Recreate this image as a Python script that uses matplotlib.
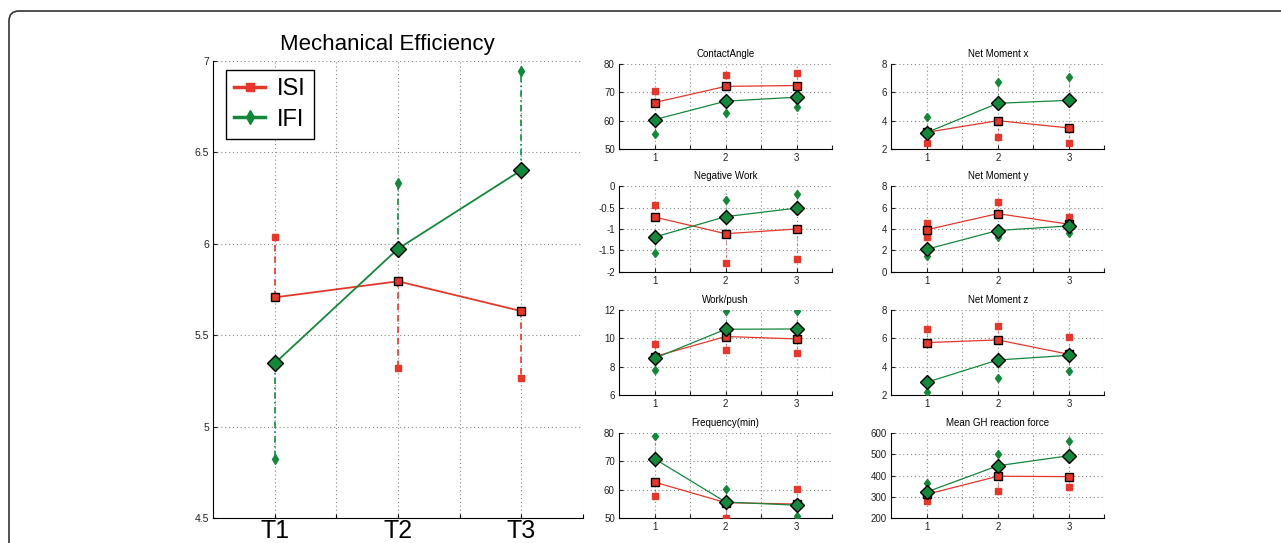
import numpy as np
import matplotlib.pyplot as plt
from matplotlib.patches import FancyBboxPatch
from matplotlib.lines import Line2D

plt.rcParams['font.family'] = ['Liberation Sans', 'DejaVu Sans']

red = '#e5372a'
green = '#14883a'

times = [1, 2, 3]
time_labels = ['T1', 'T2', 'T3']

# Mechanical efficiency (big panel)
me_isi = [5.707, 5.795, 5.632]
me_isi_end = [[6.038], [5.321], [5.268]]
me_ifi = [5.346, 5.973, 6.403]
me_ifi_end = [[4.822], [6.332], [6.945]]

# small panels
ca_isi = [66.3, 72.0, 72.3]
ca_isi_end = [[70.2], [76.1], [76.7]]
ca_ifi = [60.3, 66.8, 68.2]
ca_ifi_end = [[55.1], [62.8], [64.6]]

nw_isi = [-0.72, -1.11, -1.0]
nw_isi_end = [[-0.44], [-1.79], [-1.70]]
nw_ifi = [-1.19, -0.71, -0.51]
nw_ifi_end = [[-1.57], [-0.31], [-0.19]]

wp_isi = [8.72, 10.13, 9.96]
wp_isi_end = [[9.59], [9.21], [8.98]]
wp_ifi = [8.60, 10.64, 10.66]
wp_ifi_end = [[7.78], [11.95], [11.95]]

fr_isi = [62.7, 55.5, 55.0]
fr_isi_end = [[57.7], [50.2], [60.2]]
fr_ifi = [70.9, 55.7, 54.6]
fr_ifi_end = [[78.8], [60.3], [50.9]]

nmx_isi = [3.17, 3.99, 3.48]
nmx_isi_end = [[2.40], [2.87], [2.40]]
nmx_ifi = [3.15, 5.21, 5.42]
nmx_ifi_end = [[4.27], [6.73], [7.09]]

nmy_isi = [3.93, 5.44, 4.45]
nmy_isi_end = [[4.6, 3.25], [6.55], [5.10]]
nmy_ifi = [2.10, 3.86, 4.29]
nmy_ifi_end = [[1.45], [3.24], [3.67]]

nmz_isi = [5.70, 5.89, 4.88]
nmz_isi_end = [[6.64], [6.85], [6.08]]
nmz_ifi = [2.91, 4.48, 4.81]
nmz_ifi_end = [[2.23], [3.22], [3.69]]

gh_isi = [312, 397, 395]
gh_isi_end = [[279], [326], [345]]
gh_ifi = [323, 446, 493]
gh_ifi_end = [[367], [499], [563]]

panels = [
    ('ContactAngle', (50, 80, 10), ca_isi, ca_isi_end, ca_ifi, ca_ifi_end),
    ('Negative Work', (-2, 0, 0.5), nw_isi, nw_isi_end, nw_ifi, nw_ifi_end),
    ('Work/push', (6, 12, 2), wp_isi, wp_isi_end, wp_ifi, wp_ifi_end),
    ('Frequency(min)', (50, 80, 10), fr_isi, fr_isi_end, fr_ifi, fr_ifi_end),
    ('Net Moment x', (2, 8, 2), nmx_isi, nmx_isi_end, nmx_ifi, nmx_ifi_end),
    ('Net Moment y', (0, 8, 2), nmy_isi, nmy_isi_end, nmy_ifi, nmy_ifi_end),
    ('Net Moment z', (2, 8, 2), nmz_isi, nmz_isi_end, nmz_ifi, nmz_ifi_end),
    ('Mean GH reaction force', (200, 600, 100), gh_isi, gh_isi_end, gh_ifi, gh_ifi_end),
]


def style_axes(ax, ymin, ymax, ystep, fs):
    ax.set_xlim(0.5, 3.5)
    ax.set_ylim(ymin, ymax)
    ax.set_xticks(np.arange(1, 3.51, 0.5))
    ax.set_yticks(np.arange(ymin, ymax + ystep / 2, ystep))
    ax.grid(True, linestyle=(0, (1, 2.5)), color='#888888', linewidth=0.8)
    ax.spines['top'].set_visible(False)
    ax.spines['right'].set_visible(False)
    ax.tick_params(direction='in', length=3, labelsize=fs, pad=3, colors='#222222')
    ax.set_axisbelow(True)


def draw_series(ax, means, ends, color, marker, ms, ms_end, lw, ls, alpha=1.0):
    end_marker = 'd' if marker == 'D' else marker
    for x, m, e in zip(times, means, ends):
        for v in e:
            ax.plot([x, x], [m, v], linestyle=ls, color=color, linewidth=lw * 0.9,
                    alpha=alpha, zorder=2)
            ax.plot(x, v, linestyle='none', marker=end_marker, markersize=ms_end,
                    color=color, markeredgecolor=color, zorder=3)
    ax.plot(times, means, color=color, linewidth=lw, marker=marker, markersize=ms,
            markerfacecolor=color, markeredgecolor='black', markeredgewidth=1.0, zorder=4)


fig = plt.figure(figsize=(12.81, 5.43), dpi=100)

# rounded frame, running off the right and bottom edges
frame = FancyBboxPatch((0.09, -0.5), 13.5, 5.82, boxstyle='round,pad=0,rounding_size=0.1',
                       transform=fig.dpi_scale_trans, facecolor='none', edgecolor='#333333',
                       linewidth=1.2)
fig.patches.append(frame)

ax = fig.add_axes([0.1663, 0.0460, 0.2888, 0.8416])
style_axes(ax, 4.5, 7, 0.5, 7.5)
ax.set_yticklabels(['4.5', '5', '5.5', '6', '6.5', '7'])
ax.set_xticklabels(['T1', '', 'T2', '', 'T3', ''])
ax.tick_params(axis='x', labelsize=18, pad=1, colors='black')
draw_series(ax, me_isi, me_isi_end, red, 's', 6, 4.5, 1.3, (0, (4, 3)))
draw_series(ax, me_ifi, me_ifi_end, green, 'D', 8, 5.5, 1.3, (0, (4, 2, 1, 2)))
ax.set_title('Mechanical Efficiency', fontsize=16, pad=8, x=0.47)
handles = [Line2D([], [], color=red, marker='s', markersize=6, linewidth=2.5),
           Line2D([], [], color=green, marker='d', markersize=7, linewidth=2.5)]
leg = ax.legend(handles, ['ISI', 'IFI'], loc='upper left', fontsize=17, handlelength=1.3,
                fancybox=False, edgecolor='black', framealpha=1, borderpad=0.35,
                labelspacing=0.35, handletextpad=0.5, borderaxespad=0,
                bbox_to_anchor=(0.035, 0.98))
leg.get_frame().set_linewidth(1.0)

lefts = [0.4832, 0.6956]
bottoms = [0.7256, 0.4996, 0.2720, 0.0455]
for i, (title, (ymin, ymax, ystep), isi, isi_end, ifi, ifi_end) in enumerate(panels):
    col, row = divmod(i, 4)
    a = fig.add_axes([lefts[col], bottoms[row], 0.1666, 0.1573])
    style_axes(a, ymin, ymax, ystep, 7)
    a.set_xticklabels(['1', '', '2', '', '3', ''])
    a.set_yticklabels([f'{v:g}' for v in np.arange(ymin, ymax + ystep / 2, ystep)])
    draw_series(a, isi, isi_end, red, 's', 5.5, 4, 0.9, (0, (3, 3)), alpha=0.5)
    draw_series(a, ifi, ifi_end, green, 'D', 7, 4.5, 0.9, (0, (3, 3)), alpha=0.5)
    a.set_title(title, fontsize=7, pad=5)

fig.savefig('out.png', dpi=100)
